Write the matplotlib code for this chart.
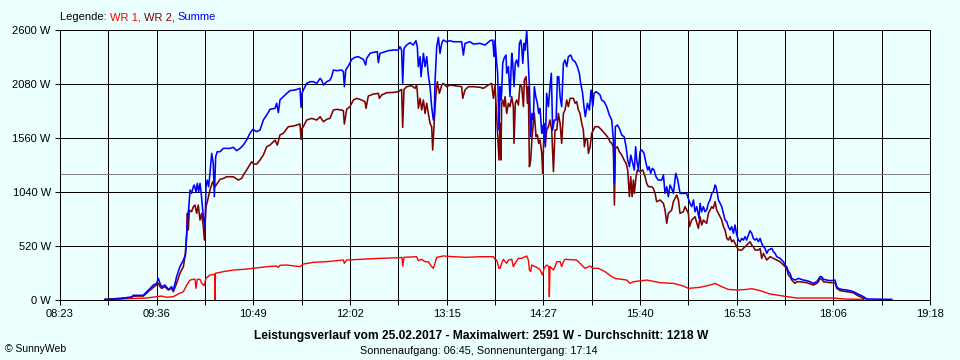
import matplotlib
matplotlib.use("Agg")
import matplotlib.pyplot as plt
import numpy as np

plt.rcParams['font.family'] = ['Liberation Sans', 'DejaVu Sans']

# ---- data (time in minutes since midnight, power in W) ----
sum_t = [536.9, 548.2, 557.0, 558.2, 565.7, 570.8, 573.3, 575.8, 577.0, 578.3, 579.5, 582.0, 584.6, 587.1, 588.3,
         590.8, 593.3, 595.9, 597.4, 597.9, 598.9, 599.9, 600.9, 602.1, 603.4, 604.1, 605.4, 606.4, 607.4, 608.4,
         609.2, 610.2, 611.2, 612.2, 612.9, 613.9, 614.9, 615.9, 617.2, 618.4, 619.2, 620.2, 621.4, 623.5, 626.0,
         631.0, 633.5, 636.0, 638.5, 641.0, 643.5, 646.0, 648.1, 651.1, 653.6, 656.1, 658.6, 661.1, 664.9, 666.1,
         667.4, 668.6, 671.1, 673.7, 676.2, 679.9, 683.7, 684.5, 685.2, 686.2, 688.7, 691.2, 693.7, 696.3, 698.8,
         700.0, 701.3, 703.8, 706.3, 707.5, 708.8, 711.3, 715.1, 716.3, 717.1, 718.1, 720.1, 722.6, 725.1, 727.6,
         731.4, 733.1, 733.9, 736.4, 738.9, 741.9, 742.7, 743.9, 747.7, 750.2, 754.0, 757.7, 759.0, 760.2, 761.0,
         762.0, 764.0, 766.5, 769.0, 771.0, 772.0, 772.8, 774.1, 774.8, 776.6, 777.8, 779.1, 780.3, 781.6, 782.8,
         784.1, 784.8, 785.3, 786.6, 787.9, 789.1, 790.4, 791.6, 794.1, 796.6, 799.1, 802.9, 805.4, 806.7, 807.9,
         811.7, 814.2, 819.2, 823.0, 826.8, 828.8, 829.8, 830.5, 831.8, 832.5, 833.5, 834.3, 835.0, 835.5, 836.3,
         837.3, 838.8, 839.3, 840.6, 841.8, 843.1, 843.8, 844.8, 845.8, 846.8, 848.1, 848.9, 849.9, 850.6, 851.4,
         852.4, 853.1, 854.4, 855.6, 856.4, 857.4, 858.4, 859.4, 860.1, 861.2, 862.4, 863.4, 864.4, 865.7, 866.4,
         867.4, 868.4, 869.4, 870.7, 871.9, 872.9, 873.9, 875.2, 876.5, 877.5, 878.5, 879.5, 880.7, 882.0, 883.2,
         884.5, 885.7, 887.5, 889.0, 890.8, 892.5, 894.0, 895.0, 896.3, 897.5, 898.5, 900.1, 901.6, 902.8, 904.1,
         905.1, 906.6, 908.3, 909.6, 910.8, 912.6, 914.6, 916.6, 918.4, 919.6, 920.4, 921.1, 922.6, 924.1, 925.9,
         927.7, 929.2, 930.4, 931.7, 932.7, 934.2, 935.4, 936.4, 937.2, 938.5, 939.7, 941.0, 942.7, 944.2, 945.5,
         946.5, 947.7, 949.0, 950.2, 951.7, 953.5, 956.0, 957.3, 958.5, 959.8, 961.0, 962.3, 963.5, 964.8, 966.6,
         968.1, 969.8, 972.3, 974.8, 977.3, 978.6, 979.9, 981.1, 982.4, 984.1, 984.9, 986.1, 987.4, 988.6, 989.9,
         991.1, 992.4, 993.7, 994.9, 996.2, 996.9, 997.9, 998.7, 1000.0, 1001.2, 1002.5, 1003.7, 1005.0, 1006.2, 1007.5,
         1008.7, 1010.0, 1011.2, 1012.5, 1013.8, 1015.0, 1016.3, 1017.5, 1018.8, 1020.0, 1021.3, 1022.5, 1023.8, 1025.0, 1026.3,
         1027.5, 1028.8, 1030.1, 1031.3, 1032.6, 1033.8, 1035.1, 1036.3, 1038.9, 1040.1, 1041.4, 1042.6, 1045.1, 1047.6, 1048.9,
         1050.1, 1051.4, 1052.6, 1053.9, 1056.4, 1058.9, 1062.7, 1065.2, 1067.7, 1070.2, 1072.7, 1074.0, 1075.2, 1076.5, 1077.8,
         1080.3, 1082.8, 1086.5, 1087.8, 1089.0, 1091.5, 1095.3, 1097.8, 1100.3, 1102.8, 1105.3, 1107.9, 1110.4, 1129.2]
sum_w = [5, 10, 30, 45, 45, 112, 144, 160, 208, 160, 128, 144, 102, 128, 90,
         225, 321, 385, 433, 513, 770, 883, 1059, 1027, 1091, 1107, 1043, 1123, 1043, 1123,
         1043, 898, 770, 706, 1091, 1155, 1091, 1219, 1412, 1316, 995, 1380, 1428, 1428, 1460,
         1460, 1470, 1438, 1460, 1492, 1540, 1605, 1643, 1621, 1637, 1733, 1781, 1836, 1846, 1894,
         1804, 1926, 1958, 1990, 2016, 2022, 2038, 1855, 1990, 2022, 2086, 2102, 2102, 2086, 2134,
         2118, 2070, 2102, 2118, 2150, 2215, 2208, 2215, 2199, 2054, 2215, 2253, 2317, 2337, 2343,
         2317, 2263, 2327, 2375, 2385, 2391, 2285, 2375, 2391, 2401, 2407, 2407, 2439, 2407, 2086,
         2423, 2455, 2478, 2455, 2497, 2439, 2247, 2343, 2150, 2375, 2247, 2343, 2167, 2054, 1862,
         1733, 1797, 2086, 2439, 2529, 2375, 2471, 2503, 2487, 2497, 2487, 2487, 2487, 2359, 2471,
         2487, 2465, 2471, 2455, 2497, 2503, 2343, 2503, 2279, 2182, 1637, 2054, 1926, 1990, 2279,
         2327, 2359, 2183, 2247, 1958, 2375, 2295, 2054, 2279, 2311, 2247, 2471, 2503, 2439, 2279,
         2471, 2407, 2591, 2279, 2054, 1573, 1797, 1733, 2054, 1958, 1894, 1797, 1845, 1605, 1669,
         1701, 1476, 1990, 1862, 2054, 2183, 1637, 1733, 1733, 2150, 2150, 1958, 1862, 2279, 2311,
         2247, 2343, 2359, 2311, 2295, 2247, 2183, 2086, 2006, 1862, 1765, 1894, 1830, 2022, 1862,
         1990, 2006, 1990, 1974, 1926, 1910, 1862, 1781, 1733, 1541, 1123, 1669, 1685, 1653, 1589,
         1573, 1476, 1348, 1284, 1396, 1316, 1252, 1476, 1348, 1252, 1428, 1444, 1412, 1316, 1252,
         1284, 1220, 1268, 1252, 1188, 1155, 1155, 1204, 1027, 1091, 995, 1107, 1075, 1027, 1220,
         1155, 1027, 1027, 1027, 931, 899, 963, 850, 899, 786, 931, 850, 899, 850, 867,
         931, 963, 1027, 1043, 1107, 1091, 1027, 963, 931, 899, 834, 770, 754, 706, 674,
         706, 642, 722, 626, 577, 561, 593, 577, 610, 577, 626, 667, 642, 593, 577,
         593, 561, 593, 545, 513, 497, 449, 481, 497, 465, 449, 417, 401, 369, 337,
         321, 273, 257, 208, 192, 208, 192, 186, 176, 160, 176, 199, 224, 224, 199,
         192, 186, 192, 128, 112, 102, 96, 90, 80, 64, 48, 32, 10, 6]

wr2_t = [536.9, 557.0, 558.2, 565.7, 570.8, 573.3, 577.0, 578.3, 579.5, 582.0, 584.6, 587.1, 588.3, 590.8, 593.3,
         595.9, 597.4, 598.4, 598.9, 599.6, 600.4, 602.1, 603.4, 604.6, 605.9, 607.1, 608.4, 609.7, 610.9, 611.7,
         612.9, 613.9, 615.9, 617.9, 619.7, 621.4, 623.5, 626.0, 628.5, 633.5, 637.3, 639.8, 641.0, 643.5, 647.3,
         649.1, 651.1, 653.6, 656.1, 658.6, 661.1, 664.9, 666.6, 668.6, 671.1, 674.9, 678.7, 683.7, 684.5, 685.2,
         686.2, 688.7, 692.5, 696.3, 698.8, 701.3, 703.8, 706.3, 708.8, 711.3, 715.1, 716.3, 717.1, 718.8, 721.3,
         723.9, 726.4, 730.1, 732.6, 733.4, 735.1, 738.9, 742.7, 743.4, 745.2, 749.0, 754.0, 757.7, 760.2, 761.0,
         762.0, 764.0, 767.8, 770.3, 771.5, 772.0, 772.8, 774.1, 775.3, 776.6, 777.8, 779.1, 780.3, 781.6, 782.8,
         783.6, 784.1, 784.8, 786.1, 787.1, 788.6, 790.4, 791.6, 794.1, 796.6, 801.7, 805.4, 806.2, 807.9, 810.4,
         814.2, 819.2, 821.7, 825.5, 828.0, 829.3, 830.5, 831.8, 833.5, 834.3, 835.0, 835.5, 836.3, 837.3, 838.1,
         839.3, 840.6, 841.8, 843.1, 844.3, 844.8, 845.8, 846.8, 848.1, 849.3, 850.6, 851.9, 852.6, 853.9, 854.9,
         855.6, 856.4, 857.4, 858.4, 859.4, 860.1, 861.4, 862.4, 863.4, 864.4, 865.7, 866.4, 867.4, 868.4, 869.4,
         870.7, 871.9, 873.2, 874.5, 875.7, 877.0, 878.2, 879.5, 880.7, 882.0, 883.2, 884.5, 885.7, 887.0, 889.5,
         890.8, 892.0, 893.3, 894.5, 895.8, 897.0, 897.8, 898.8, 900.1, 900.8, 902.1, 903.3, 904.6, 905.8, 908.3,
         910.8, 914.1, 915.9, 917.1, 918.4, 919.6, 920.4, 921.1, 922.6, 924.1, 925.9, 927.7, 929.2, 930.4, 931.7,
         932.7, 933.7, 934.7, 935.4, 936.7, 937.7, 939.7, 941.7, 943.5, 944.7, 946.0, 948.5, 949.7, 951.0, 952.2,
         954.8, 957.3, 958.5, 959.8, 961.0, 963.5, 964.8, 967.3, 968.6, 969.8, 972.3, 973.6, 976.1, 976.9, 978.6,
         981.1, 983.6, 984.9, 986.1, 987.4, 989.9, 991.1, 992.4, 993.7, 994.9, 996.2, 997.4, 998.7, 1000.0, 1001.2,
         1002.5, 1003.7, 1005.0, 1006.2, 1007.5, 1008.7, 1010.0, 1012.5, 1013.8, 1016.3, 1017.5, 1021.3, 1022.5, 1023.8, 1025.0,
         1026.3, 1028.8, 1030.1, 1031.3, 1032.6, 1033.8, 1035.1, 1037.6, 1040.1, 1042.6, 1045.1, 1047.6, 1050.1, 1051.4, 1052.6,
         1053.9, 1056.4, 1057.7, 1060.2, 1065.2, 1070.2, 1072.7, 1074.0, 1075.2, 1076.5, 1077.8, 1082.8, 1086.5, 1087.8, 1090.3,
         1095.3, 1100.3, 1102.8, 1105.3, 1107.9, 1110.4]
wr2_w = [5, 26, 38, 38, 96, 122, 160, 128, 112, 128, 96, 112, 80, 160, 257,
         321, 449, 642, 834, 674, 866, 850, 898, 914, 834, 914, 770, 834, 706, 577,
         898, 947, 1059, 1139, 1091, 1123, 1162, 1171, 1187, 1187, 1155, 1171, 1203, 1252, 1332,
         1309, 1309, 1348, 1396, 1476, 1492, 1540, 1492, 1589, 1605, 1669, 1675, 1695, 1547, 1653,
         1669, 1733, 1749, 1733, 1765, 1717, 1740, 1749, 1829, 1836, 1829, 1823, 1695, 1836, 1862,
         1926, 1942, 1926, 1910, 1846, 1964, 1983, 1990, 1942, 1974, 1996, 1999, 2006, 2028, 1662,
         2028, 2054, 2064, 2038, 2070, 2006, 1846, 1942, 1830, 1926, 1797, 1894, 1797, 1701, 1669,
         1444, 1573, 1733, 1990, 2102, 1990, 2070, 2086, 2054, 2070, 2061, 2054, 1942, 2022, 2054,
         2054, 2048, 2038, 2070, 2086, 1942, 2070, 1765, 1348, 1701, 1348, 1894, 1926, 1862, 1958,
         1797, 1894, 1862, 1958, 1862, 1508, 1894, 1926, 1878, 2070, 2054, 1862, 2118, 2150, 1894,
         2054, 1284, 1348, 1573, 1701, 1797, 1573, 1589, 1508, 1541, 1412, 1220, 1637, 1508, 1637,
         1669, 1733, 1637, 1236, 1637, 1637, 1797, 1701, 1508, 1797, 1830, 1926, 1862, 1942, 1942,
         1894, 1910, 1830, 1797, 1701, 1637, 1476, 1557, 1541, 1412, 1476, 1605, 1637, 1669, 1669,
         1637, 1589, 1557, 1525, 1508, 1476, 915, 1460, 1476, 1428, 1396, 1348, 1316, 1252, 995,
         1188, 995, 1155, 1027, 1188, 1252, 1236, 1252, 1188, 1123, 1091, 1091, 1075, 1027, 947,
         963, 931, 866, 738, 834, 866, 947, 1011, 963, 834, 850, 899, 834, 706, 770,
         802, 690, 802, 722, 770, 738, 834, 866, 899, 883, 947, 866, 834, 802, 770,
         706, 674, 594, 577, 610, 561, 577, 513, 481, 481, 497, 545, 561, 529, 513,
         481, 481, 497, 401, 449, 417, 385, 417, 401, 385, 369, 337, 305, 241, 225,
         192, 160, 176, 176, 167, 144, 160, 176, 208, 199, 176, 167, 167, 112, 90,
         80, 70, 48, 32, 16, 10]

wr1_t = [536.9, 568.3, 575.8, 579.5, 583.3, 588.3, 592.1, 595.9, 598.4, 600.9, 604.6, 605.4, 606.4, 608.4, 609.7,
         611.4, 612.9, 615.9, 619.5, 619.7, 620.0, 626.0, 633.5, 641.0, 648.6, 658.6, 666.1, 667.4, 668.6, 673.7,
         683.7, 686.2, 693.7, 703.8, 716.3, 717.1, 718.8, 733.9, 743.9, 759.0, 760.5, 761.0, 762.0, 771.5, 772.8,
         775.3, 777.8, 780.3, 782.8, 784.1, 785.3, 786.6, 791.6, 799.1, 809.2, 819.2, 829.3, 830.5, 831.8, 833.5,
         834.3, 835.5, 836.8, 839.3, 840.6, 843.1, 844.3, 845.6, 848.1, 850.6, 853.1, 854.4, 855.6, 856.4, 857.4,
         858.1, 860.6, 863.2, 864.4, 866.4, 867.4, 869.4, 871.0, 871.4, 871.9, 874.5, 875.7, 877.0, 879.5, 880.7,
         882.0, 883.2, 892.0, 895.8, 898.3, 902.1, 904.6, 908.3, 913.3, 918.4, 920.9, 929.7, 932.2, 934.7, 944.7,
         954.8, 964.8, 972.3, 976.1, 984.9, 992.4, 996.2, 1001.2, 1006.2, 1012.5, 1020.0, 1023.8, 1030.1, 1037.6, 1047.6,
         1057.7, 1085.3, 1092.8, 1107.9]
wr1_w = [6, 19, 32, 38, 26, 32, 58, 80, 144, 192, 202, 112, 199, 199, 160,
         138, 208, 241, 247, 0, 257, 273, 289, 295, 305, 321, 327, 314, 334, 337,
         321, 346, 363, 369, 385, 353, 385, 395, 401, 408, 411, 327, 411, 417, 379,
         392, 369, 369, 321, 305, 353, 411, 424, 417, 411, 417, 417, 392, 385, 305,
         305, 353, 392, 353, 385, 392, 321, 353, 401, 401, 417, 424, 385, 289, 273,
         337, 321, 305, 289, 241, 305, 337, 321, 32, 321, 289, 321, 369, 369, 321,
         369, 392, 385, 337, 305, 327, 305, 305, 273, 225, 208, 192, 160, 176, 192,
         167, 160, 135, 112, 122, 144, 160, 128, 102, 96, 102, 109, 90, 58, 38,
         19, 19, 10, 6]

average_w = 1218
x_start, x_end = 503, 1158          # 08:23 .. 19:18
x_labels = ["08:23", "09:36", "10:49", "12:02", "13:15", "14:27", "15:40", "16:53", "18:06", "19:18"]
y_ticks = [0, 520, 1040, 1560, 2080, 2600]

title = "Leistungsverlauf vom 25.02.2017 - Maximalwert: 2591 W - Durchschnitt: 1218 W"
subtitle = "Sonnenaufgang: 06:45, Sonnenuntergang: 17:14"

# ---- figure ----
BG = "#ebffff"
fig = plt.figure(figsize=(9.6, 3.6), dpi=100, facecolor=BG)
ax = fig.add_axes([60/960, 60/360, 870/960, 270/360], facecolor=BG)

px = 72/100  # one pixel in points
x_grid = np.linspace(x_start, x_end, 19)
for xg in x_grid:
    ax.axvline(xg, color="black", lw=px, zorder=1, antialiased=False)
for yg in y_ticks:
    ax.axhline(yg, color="black", lw=px, zorder=1, antialiased=False)
ax.axhline(average_w, color="#808080", lw=px, zorder=2, antialiased=False)

ax.plot(wr1_t, wr1_w, color="#ff0000", lw=1.0, zorder=3)
ax.plot(wr2_t, wr2_w, color="#800000", lw=1.15, zorder=4)
ax.plot(sum_t, sum_w, color="#0000ff", lw=1.15, zorder=5)

ax.set_xlim(x_start, x_end)
ax.set_ylim(0, 2600)
ax.set_xticks(x_grid)
ax.set_xticklabels([x_labels[i // 2] if i % 2 == 0 else "" for i in range(len(x_grid))])
ax.set_yticks(y_ticks)
ax.set_yticklabels([f"{v} W" for v in y_ticks])
ax.tick_params(axis="both", direction="out", length=5*px, width=px, colors="black",
               labelsize=8, pad=3)
for s in ax.spines.values():
    s.set_linewidth(px)
    s.set_color("black")

# legend line (multi-colour)
fig.canvas.draw()
renderer = fig.canvas.get_renderer()
xpos = 60
parts = [("Legende: ", "black"), ("WR 1, ", "#ff0000"), ("WR 2, ", "#800000"), ("Summe", "#0000ff")]
for txt, col in parts:
    t = fig.text(xpos/960, 1 - 17/360, txt, color=col, fontsize=8, va="center", ha="left")
    bb = t.get_window_extent(renderer)
    xpos += bb.width

fig.text(481/960, 1 - 336/360, title, fontsize=8.65, fontweight="bold", ha="center", va="center")
fig.text(479/960, 1 - 350.5/360, subtitle, fontsize=7.8, ha="center", va="center")
fig.text(5/960, 1 - 349/360, "\u00a9 SunnyWeb", fontsize=7.5, ha="left", va="center")

fig.savefig("out.png", dpi=100, facecolor=BG)
